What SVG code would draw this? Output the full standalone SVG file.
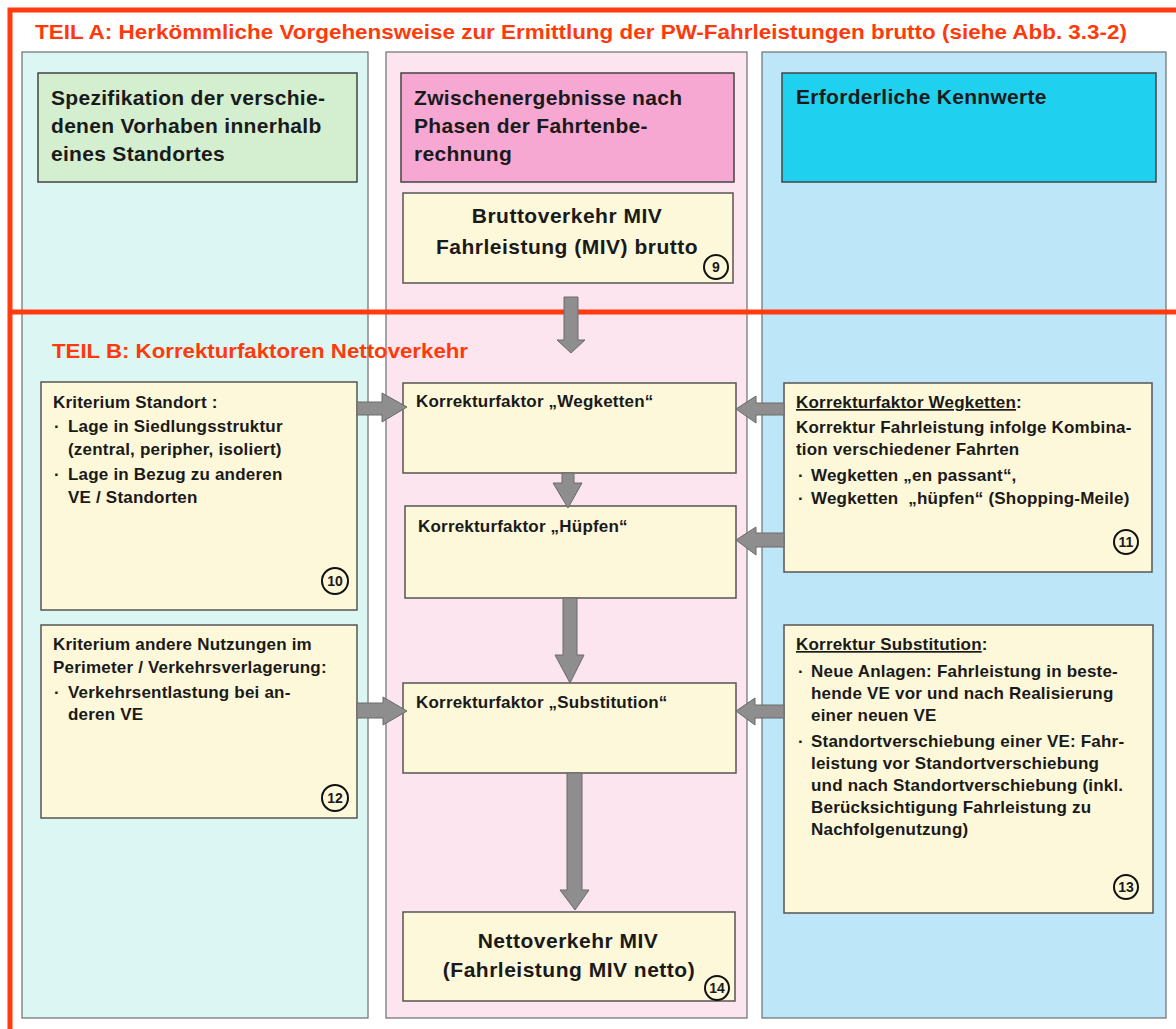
<svg xmlns="http://www.w3.org/2000/svg" width="1176" height="1029" viewBox="0 0 1176 1029">
<style>
text{font-family:"Liberation Sans",Arial,sans-serif;font-weight:bold;fill:#1a1a1a}
.col{stroke:#6e6e6e;stroke-width:1.2}
.box{fill:#fdf8d9;stroke:#555;stroke-width:1.5}
.hdr{stroke:#444;stroke-width:1.5}
.t15{font-size:17px;letter-spacing:0.2px}
.t18{font-size:21px;letter-spacing:0.3px}
.big{font-size:21px;letter-spacing:0.5px}
.red{fill:#ff3a0a;font-size:21px}
.num{fill:none;stroke:#111;stroke-width:2}
.n{font-size:14px;text-anchor:middle}
.arr{fill:#8e8e8e;stroke:#6a6a6a;stroke-width:1}
.frame{stroke:#ff3b0f;stroke-width:5;fill:none}
</style>
<rect width="1176" height="1029" fill="#ffffff"/>
<g id="columns">
<rect class="col" x="22" y="52" width="346" height="966" fill="#dcf6f4"/>
<rect class="col" x="386" y="52" width="361" height="966" fill="#fde5f0"/>
<rect class="col" x="762" y="52" width="404" height="966" fill="#bde7f8"/>
</g>
<g id="hdr-spez">
<rect class="hdr" x="38" y="73" width="319" height="109" fill="#d3efcf"/>
<text class="t18" x="51" y="105">Spezifikation der verschie-</text>
<text class="t18" x="51" y="133">denen Vorhaben innerhalb</text>
<text class="t18" x="51" y="161">eines Standortes</text>
</g>
<g id="hdr-zwischen">
<rect class="hdr" x="401" y="73" width="333" height="109" fill="#f6a8d3"/>
<text class="t18" x="414" y="105">Zwischenergebnisse nach</text>
<text class="t18" x="414" y="133">Phasen der Fahrtenbe-</text>
<text class="t18" x="414" y="161">rechnung</text>
</g>
<g id="hdr-kennwerte">
<rect class="hdr" x="782" y="73" width="374" height="109" fill="#20d0ef"/>
<text class="t18" x="796" y="104">Erforderliche Kennwerte</text>
</g>
<g id="n9">
<rect class="box" x="403" y="193" width="330" height="90"/>
<text class="big" x="567" y="223" text-anchor="middle">Bruttoverkehr MIV</text>
<text class="big" x="567" y="254" text-anchor="middle">Fahrleistung (MIV) brutto</text>
<circle class="num" cx="716" cy="267" r="12"/>
<text class="n" x="716" y="272">9</text>
</g>
<g id="n10">
<rect class="box" x="41" y="382" width="316" height="228"/>
<text class="t15" x="53" y="408">Kriterium Standort :</text>
<text class="t15" x="54" y="432">·</text>
<text class="t15" x="68" y="432">Lage in Siedlungsstruktur</text>
<text class="t15" x="68" y="455">(zentral, peripher, isoliert)</text>
<text class="t15" x="54" y="480">·</text>
<text class="t15" x="68" y="480">Lage in Bezug zu anderen</text>
<text class="t15" x="68" y="503">VE / Standorten</text>
<circle class="num" cx="335" cy="581" r="13"/>
<text class="n" x="335" y="586">10</text>
</g>
<g id="n-wegketten">
<rect class="box" x="403" y="383" width="333" height="90"/>
<text class="t15" x="416" y="407">Korrekturfaktor „Wegketten“</text>
</g>
<g id="n-huepfen">
<rect class="box" x="405" y="506" width="331" height="92"/>
<text class="t15" x="418" y="532">Korrekturfaktor „Hüpfen“</text>
</g>
<g id="n11">
<rect class="box" x="784" y="383" width="368" height="189"/>
<text class="t15" x="796" y="408"><tspan text-decoration="underline">Korrekturfaktor Wegketten</tspan>:</text>
<text class="t15" x="796" y="433">Korrektur Fahrleistung infolge Kombina-</text>
<text class="t15" x="796" y="455">tion verschiedener Fahrten</text>
<text class="t15" x="798" y="481">·</text>
<text class="t15" x="811" y="481">Wegketten „en passant“,</text>
<text class="t15" x="798" y="504">·</text>
<text class="t15" x="811" y="504" xml:space="preserve">Wegketten  „hüpfen“ (Shopping-Meile)</text>
<circle class="num" cx="1126" cy="542" r="12"/>
<text class="n" x="1126" y="547">11</text>
</g>
<g id="n12">
<rect class="box" x="41" y="625" width="316" height="193"/>
<text class="t15" x="53" y="650">Kriterium andere Nutzungen im</text>
<text class="t15" x="53" y="673">Perimeter / Verkehrsverlagerung:</text>
<text class="t15" x="54" y="698">·</text>
<text class="t15" x="68" y="698">Verkehrsentlastung bei an-</text>
<text class="t15" x="68" y="720">deren VE</text>
<circle class="num" cx="335" cy="798" r="13"/>
<text class="n" x="335" y="803">12</text>
</g>
<g id="n-substitution">
<rect class="box" x="403" y="683" width="333" height="90"/>
<text class="t15" x="416" y="708">Korrekturfaktor „Substitution“</text>
</g>
<g id="n13">
<rect class="box" x="784" y="625" width="369" height="288"/>
<text class="t15" x="796" y="650"><tspan text-decoration="underline">Korrektur Substitution</tspan>:</text>
<text class="t15" x="798" y="677">·</text>
<text class="t15" x="811" y="677">Neue Anlagen: Fahrleistung in beste-</text>
<text class="t15" x="811" y="699">hende VE vor und nach Realisierung</text>
<text class="t15" x="811" y="721">einer neuen VE</text>
<text class="t15" x="798" y="747">·</text>
<text class="t15" x="811" y="747">Standortverschiebung einer VE: Fahr-</text>
<text class="t15" x="811" y="769">leistung vor Standortverschiebung</text>
<text class="t15" x="811" y="791">und nach Standortverschiebung (inkl.</text>
<text class="t15" x="811" y="813">Berücksichtigung Fahrleistung zu</text>
<text class="t15" x="811" y="835">Nachfolgenutzung)</text>
<circle class="num" cx="1126" cy="887" r="12"/>
<text class="n" x="1126" y="892">13</text>
</g>
<g id="n14">
<rect class="box" x="403" y="912" width="332" height="89"/>
<text class="big" x="568" y="948" text-anchor="middle">Nettoverkehr MIV</text>
<text class="big" x="569" y="977" text-anchor="middle">(Fahrleistung MIV netto)</text>
<circle class="num" cx="717" cy="988" r="12"/>
<text class="n" x="717" y="993">14</text>
</g>
<g id="frame">
<path class="frame" d="M10 1029 V10 H1176"/>
<path class="frame" d="M10 312 H1176"/>
</g>
<g id="connectors">
<polygon class="arr" points="564,297 578,297 578,340 585,340 571,353 557,340 564,340"/>
<polygon class="arr" points="562,473 574,473 574,483 582,483 568,508 553,483 562,483"/>
<polygon class="arr" points="563,598 577,598 577,655 584,655 570,683 555,655 563,655"/>
<polygon class="arr" points="567,773 582,773 582,890 589,890 575,910 560,890 567,890"/>
<polygon class="arr" points="357,402 382,402 382,393 407,407 382,422 382,415 357,415"/>
<polygon class="arr" points="357,703 383,703 383,697 407,711 383,725 383,718 357,718"/>
<polygon class="arr" points="784,403 756,403 756,396 736,409 756,423 756,415 784,415"/>
<polygon class="arr" points="784,533 756,533 756,527 736,540 756,555 756,547 784,547"/>
<polygon class="arr" points="784,705 755,705 755,698 736,711 755,725 755,718 784,718"/>
</g>
<g id="titles">
<text class="red" x="35" y="39" textLength="1092" lengthAdjust="spacingAndGlyphs">TEIL A: Herkömmliche Vorgehensweise zur Ermittlung der PW-Fahrleistungen brutto (siehe Abb. 3.3-2)</text>
<text class="red" x="52" y="358" textLength="416" lengthAdjust="spacingAndGlyphs">TEIL B: Korrekturfaktoren Nettoverkehr</text>
</g>
</svg>
